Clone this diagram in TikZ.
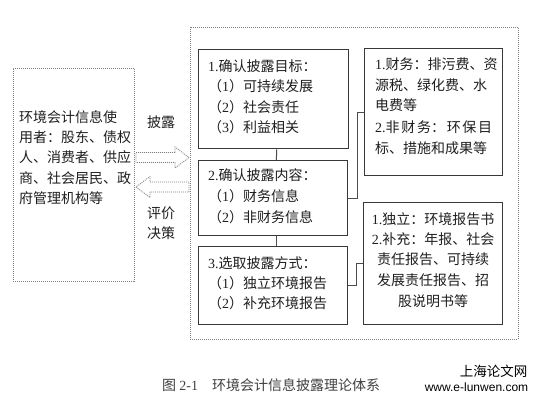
\documentclass[tikz,border=0pt]{standalone}
\usepackage{fontspec}
\setmainfont{Liberation Serif}
\newfontfamily\cjk{Noto Sans CJK SC}
\newfontfamily\wsans{Liberation Sans}
\newcommand\Lt[1]{{\rmfamily #1}}
\tikzset{
  box/.style={draw=black!78, line width=1.3pt, anchor=north west, inner sep=0pt},
  dotbox/.style={draw=black!50, line width=0.8pt, dash pattern=on 1pt off 1pt, anchor=north west, inner sep=0pt},
  conn/.style={draw=black!70, line width=1pt},
  blockarrow/.style={draw=black!50, line width=0.8pt, dash pattern=on 1pt off 1pt, line join=miter},
  txt/.style={font=\cjk\fontsize{14}{20.5}\selectfont, text=black!88, inner sep=0pt, anchor=base west},
  ctxt/.style={txt, anchor=base},
}
\begin{document}
\begin{tikzpicture}[x=1pt,y=-1pt]
\useasboundingbox[fill=white] (0,0) rectangle (537,400);

% frames
\node[dotbox, minimum width=121pt, minimum height=213pt] (L) at (13,68) {};
\node[dotbox, minimum width=328pt, minimum height=312pt] (O) at (190,27) {};
\node[box, minimum width=150pt, minimum height=99pt] (b1) at (197.5,49) {};
\node[box, minimum width=149.5pt, minimum height=75pt] (b2) at (197.5,160) {};
\node[box, minimum width=149.5pt, minimum height=78pt] (b3) at (197.5,246) {};
\node[box, minimum width=138pt, minimum height=127pt] (bA) at (364,48) {};
\node[box, minimum width=139pt, minimum height=122pt] (bB) at (363,202) {};

% connectors
\draw[conn] ([xshift=3.5pt]b1.south) -- ([xshift=3.5pt]b2.north);
\draw[conn] ([xshift=3.5pt]b2.south) -- ([xshift=3.5pt]b3.north);
\draw[conn] (b2.east) -- ++(9,0) |- (bA.west);
\draw[conn] (b3.east) -- ++(8.5,0) |- (bB.west);

% block arrows
\coordinate (ra) at (L.east |- 0,157.5);
\draw[blockarrow] (136,152.5) -- (175,152.5) -- (175,147) -- (189,157.5) -- (175,168) -- (175,162.5) -- (136,162.5) -- cycle;
\coordinate (la) at (O.west |- 0,187);
\draw[blockarrow] (189,182) -- (150,182) -- (150,176.5) -- (136,187) -- (150,197.5) -- (150,192) -- (189,192) -- cycle;

% left box text
\node[txt] (l1) at (19,122) {环境会计信息使};
\node[txt] (l2) at (19,142) {用者：股东、债权};
\node[txt] (l3) at (19,162) {人、消费者、供应};
\node[txt] (l4) at (19,183) {商、社会居民、政};
\node[txt] (l5) at (19,203) {府管理机构等};

% arrow labels
\node[ctxt] (pl) at (161,127) {披露};
\node[ctxt] (pj1) at (161,218) {评价};
\node[ctxt] (pj2) at (161,238) {决策};

% box 1
\node[txt] (t11) at (208,71) {\Lt{1.}确认披露目标：};
\node[txt] (t12) at (208,91.5) {（\Lt{1}）可持续发展};
\node[txt] (t13) at (208,112) {（\Lt{2}）社会责任};
\node[txt] (t14) at (208,132.5) {（\Lt{3}）利益相关};

% box 2
\node[txt] (t21) at (208,180) {\Lt{2.}确认披露内容：};
\node[txt] (t22) at (208,201) {（\Lt{1}）财务信息};
\node[txt] (t23) at (208,222) {（\Lt{2}）非财务信息};

% box 3
\node[txt] (t31) at (208,268) {\Lt{3.}选取披露方式：};
\node[txt] (t32) at (208,288) {（\Lt{1}）独立环境报告};
\node[txt] (t33) at (208,308) {（\Lt{2}）补充环境报告};

% box A
\node[txt] (a1) at (375,69) {\Lt{1.}财务：排污费、资};
\node[txt] (a2) at (375,90) {源税、绿化费、水};
\node[txt] (a3) at (375,110) {电费等};
\node[txt] (a4) at (375,132) {\hbox to 117pt{\Lt{2.}非\hfill 财\hfill 务：\hfill 环\hfill 保\hfill 目}};
\node[txt] (a5) at (375,153) {标、措施和成果等};

% box B
\node[ctxt] (c1) at (433,224) {\Lt{1.}独立：环境报告书};
\node[ctxt] (c2) at (433,244) {\Lt{2.}补充：年报、社会};
\node[ctxt] (c3) at (433,264) {责任报告、可持续};
\node[ctxt] (c4) at (433,285) {发展责任报告、招};
\node[ctxt] (c5) at (433,306) {股说明书等};

% caption
\node[txt, text=black!75] (cap) at (162,390) {图 \Lt{2-1}\hspace{14pt}环境会计信息披露理论体系};

% watermark
\node[inner sep=0pt, anchor=base, font=\cjk\fontsize{13.5}{14}\selectfont] (wm1) at (493.5,376) {上海论文网};
\node[inner sep=0pt, anchor=base, font=\wsans\fontsize{12}{14}\selectfont] (wm2) at (476.5,391) {www.e-lunwen.com};
\end{tikzpicture}
\end{document}
